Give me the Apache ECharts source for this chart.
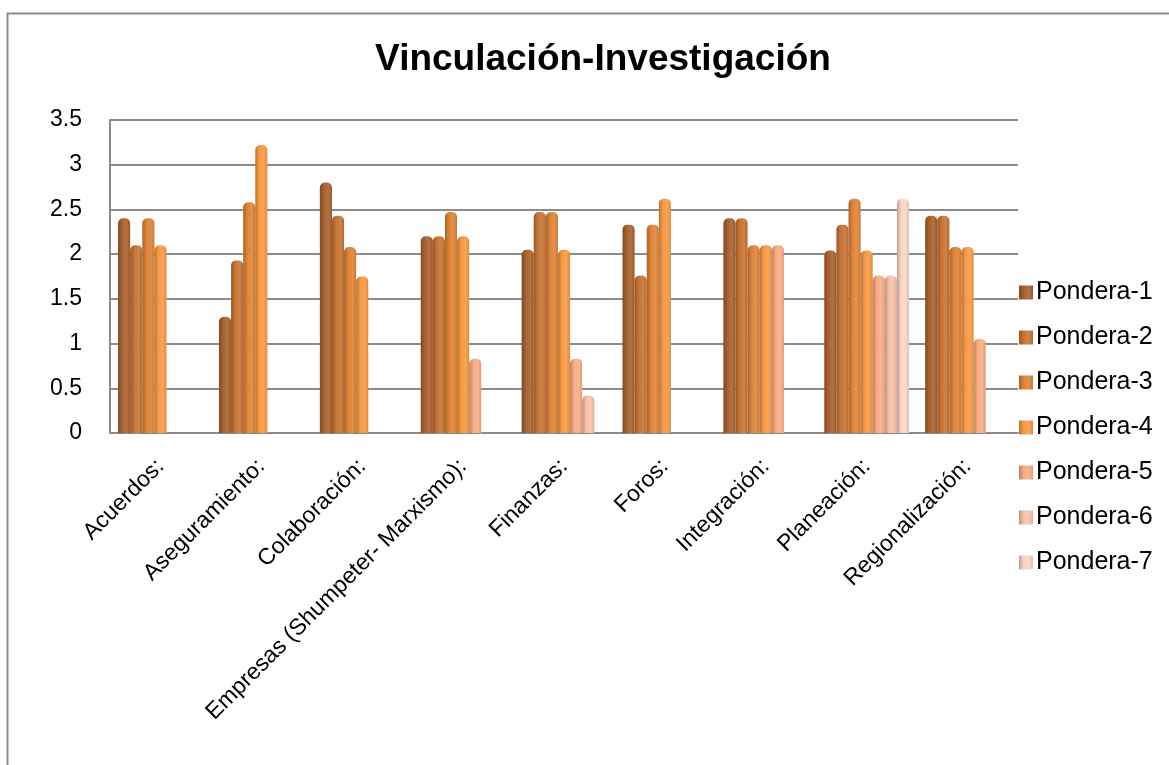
<!DOCTYPE html>
<html>
<head>
<meta charset="utf-8">
<title>Vinculación-Investigación</title>
<script src="https://cdn.jsdelivr.net/npm/echarts@6/dist/echarts.min.js"></script>
<style>
    html, body { margin: 0; padding: 0; background: #fff; }
    #chart { width: 1169px; height: 765px; }
</style>
</head>
<body>
<div id="chart"></div>
<script>
var categories = ['Acuerdos:', 'Aseguramiento:', 'Colaboración:', 'Empresas (Shumpeter- Marxismo):',
    'Finanzas:', 'Foros:', 'Integración:', 'Planeación:', 'Regionalización:'];
var seriesNames = ['Pondera-1', 'Pondera-2', 'Pondera-3', 'Pondera-4', 'Pondera-5', 'Pondera-6', 'Pondera-7'];
var pondera1 = [2.4, 1.3, 2.8, 2.2, 2.05, 2.33, 2.4, 2.04, 2.43];
var pondera2 = [2.1, 1.93, 2.43, 2.2, 2.47, 1.76, 2.4, 2.33, 2.43];
var pondera3 = [2.4, 2.58, 2.08, 2.47, 2.47, 2.33, 2.1, 2.62, 2.08];
var pondera4 = [2.1, 3.22, 1.75, 2.2, 2.05, 2.62, 2.1, 2.04, 2.08];
var pondera5 = [null, null, null, 0.83, 0.83, null, 2.1, 1.76, 1.05];
var pondera6 = [null, null, null, null, 0.42, null, null, 1.76, null];
var pondera7 = [null, null, null, null, null, null, null, 2.62, null];
var yTicks = [0, 0.5, 1, 1.5, 2, 2.5, 3, 3.5];

var colors = ['#A9622F', '#C87535', '#E08538', '#F99A45', '#F8AE84', '#F8C2A8', '#FAD6C6'];
var allData = [pondera1, pondera2, pondera3, pondera4, pondera5, pondera6, pondera7];

// darken (f<0) or lighten (f>0) a hex colour, for the cylinder look
function shade(hex, f) {
    var n = parseInt(hex.slice(1), 16);
    var r = (n >> 16) & 255, g = (n >> 8) & 255, b = n & 255;
    var m = function (c) { return Math.max(0, Math.min(255, Math.round(f < 0 ? c * (1 + f) : c + (255 - c) * f))); };
    return 'rgb(' + m(r) + ',' + m(g) + ',' + m(b) + ')';
}

var series = seriesNames.map(function (name, i) {
    return {
        name: name,
        type: 'bar',
        data: allData[i],
        barGap: '0%',
        barCategoryGap: '16%',
        itemStyle: {
            color: new echarts.graphic.LinearGradient(0, 0, 1, 0, [
                {offset: 0, color: shade(colors[i], -0.25)},
                {offset: 0.35, color: colors[i]},
                {offset: 0.7, color: shade(colors[i], 0.1)},
                {offset: 1, color: shade(colors[i], -0.1)}
            ]),
            borderRadius: [5, 5, 0, 0]
        }
    };
});

var option = {
    animation: false,
    color: colors,
    textStyle: { fontFamily: 'Liberation Sans, Arial, sans-serif' },
    title: {
        text: 'Vinculación-Investigación',
        left: 598,
        textAlign: 'center',
        top: 36,
        textStyle: { fontSize: 37, fontWeight: 'bold', color: '#000', fontFamily: 'Liberation Sans, Arial, sans-serif' }
    },
    graphic: [{
        type: 'rect',
        shape: { x: 7.5, y: 13.5, width: 1200, height: 800 },
        style: { fill: 'none', stroke: '#8c8c8c', lineWidth: 2 },
        silent: true
    }],
    legend: {
        orient: 'vertical',
        left: 1014,
        top: 275,
        itemWidth: 14,
        itemHeight: 14,
        itemGap: 20,
        icon: 'rect',
        data: seriesNames,
        textStyle: { fontSize: 25, color: '#000', padding: [0, 0, 0, -2] }
    },
    grid: {
        left: 110,
        right: 151,
        top: 120,
        bottom: 332
    },
    xAxis: {
        type: 'category',
        data: categories,
        axisLine: { lineStyle: { color: '#8c8c8c', width: 2 } },
        axisTick: { show: false },
        axisLabel: {
            rotate: 45,
            interval: 0,
            fontSize: 23,
            color: '#000',
            margin: 30
        }
    },
    yAxis: {
        type: 'value',
        min: yTicks[0],
        max: yTicks[yTicks.length - 1],
        interval: 0.5,
        axisLine: { show: true, lineStyle: { color: '#8c8c8c', width: 2 } },
        axisTick: { show: false },
        axisLabel: { fontSize: 23, color: '#000', margin: 28 },
        splitLine: { lineStyle: { color: '#8c8c8c', width: 2 } }
    },
    series: series
};

var chart = echarts.init(document.getElementById('chart'));
chart.setOption(option);
</script>
</body>
</html>
